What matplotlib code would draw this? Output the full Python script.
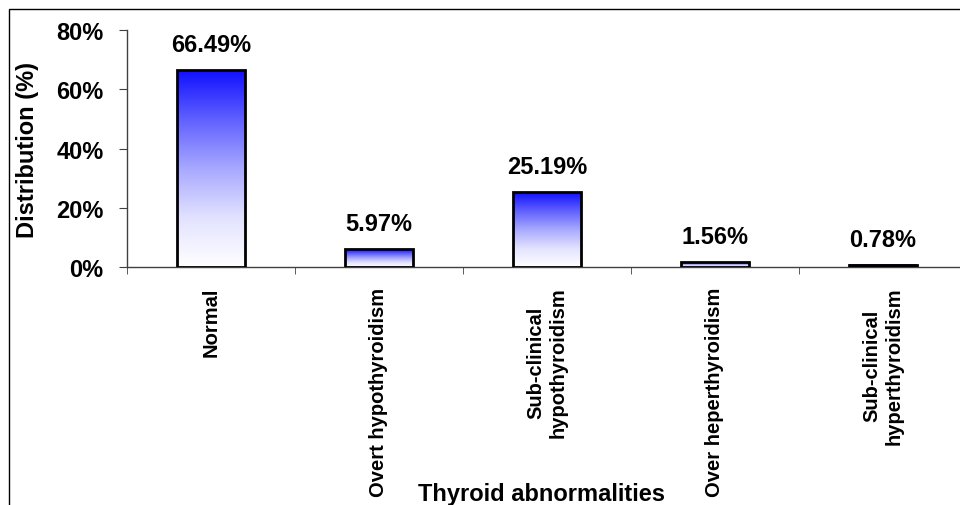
import numpy as np
import matplotlib
matplotlib.use("Agg")
import matplotlib.pyplot as plt
from matplotlib.patches import Rectangle
from matplotlib.colors import LinearSegmentedColormap

plt.rcParams["font.family"] = ["Liberation Sans", "DejaVu Sans"]
plt.rcParams["font.weight"] = "bold"

categories = ["Normal", "Overt hypothyroidism", "Sub-clinical\nhypothyroidism",
              "Over heperthyroidism", "Sub-clinical\nhyperthyroidism"]
values = [66.49, 5.97, 25.19, 1.56, 0.78]
value_labels = ["66.49%", "5.97%", "25.19%", "1.56%", "0.78%"]
y_ticks = [0, 20, 40, 60, 80]

BLUE_WHITE = LinearSegmentedColormap.from_list(
    "bw", [(0.0, "#ffffff"), (0.25, "#e2e2ff"), (0.5, "#a8a8ff"), (0.75, "#6060ff"), (1.0, "#1010ff")])

fig = plt.figure(figsize=(9.6, 5.06), dpi=100)
# outer frame line
fig.patches.append(Rectangle((9 / 960, -0.2), 1.2, 1.2 - 10 / 506, transform=fig.transFigure,
                             fill=False, edgecolor="black", linewidth=1.0))

ax = fig.add_axes([127 / 960, 1 - 268 / 506, 840 / 960, (268 - 31) / 506])
x = np.arange(len(categories))
bars = ax.bar(x, values, width=0.40, facecolor="none", edgecolor="black", linewidth=2.0, zorder=3)

# vertical gradient fill inside each bar
grad = np.linspace(0, 1, 256).reshape(-1, 1)
for rect in bars:
    x0, w, h = rect.get_x(), rect.get_width(), rect.get_height()
    ax.imshow(grad, cmap=BLUE_WHITE, aspect="auto", origin="lower",
              extent=(x0, x0 + w, 0, h), zorder=2, interpolation="bilinear")

for xi, v, lab in zip(x, values, value_labels):
    ax.annotate(lab, xy=(xi, v), xytext=(0, 10), textcoords="offset points",
                ha="center", va="bottom", fontsize=17, fontweight="bold")

ax.set_xlim(-0.5, len(categories) - 0.5)
ax.set_ylim(0, 80)
ax.set_yticks(y_ticks)
ax.set_yticklabels([f"{t}%" for t in y_ticks], fontsize=17, fontweight="bold")
ax.set_xticks(x)
ax.set_xticklabels(categories, rotation=90, fontsize=14.5, fontweight="bold",
                   va="top", ha="center", multialignment="center")
ax.tick_params(axis="x", length=0, pad=14)
ax.set_xticks(np.arange(len(categories) + 1) - 0.5, minor=True)
ax.tick_params(axis="x", which="minor", length=5, direction="out", color="#404040")
ax.tick_params(axis="y", length=6, direction="out", color="#404040", pad=11)

for side in ["top", "right"]:
    ax.spines[side].set_visible(False)
for side in ["left", "bottom"]:
    ax.spines[side].set_color("#404040")
    ax.spines[side].set_linewidth(1.0)

ax.set_ylabel("Distribution (%)", fontsize=17, fontweight="bold", labelpad=12)
fig.text(541 / 960, 1 - 495 / 506, "Thyroid abnormalities", ha="center", va="center",
         fontsize=17, fontweight="bold")

fig.savefig("out.png", dpi=100)
